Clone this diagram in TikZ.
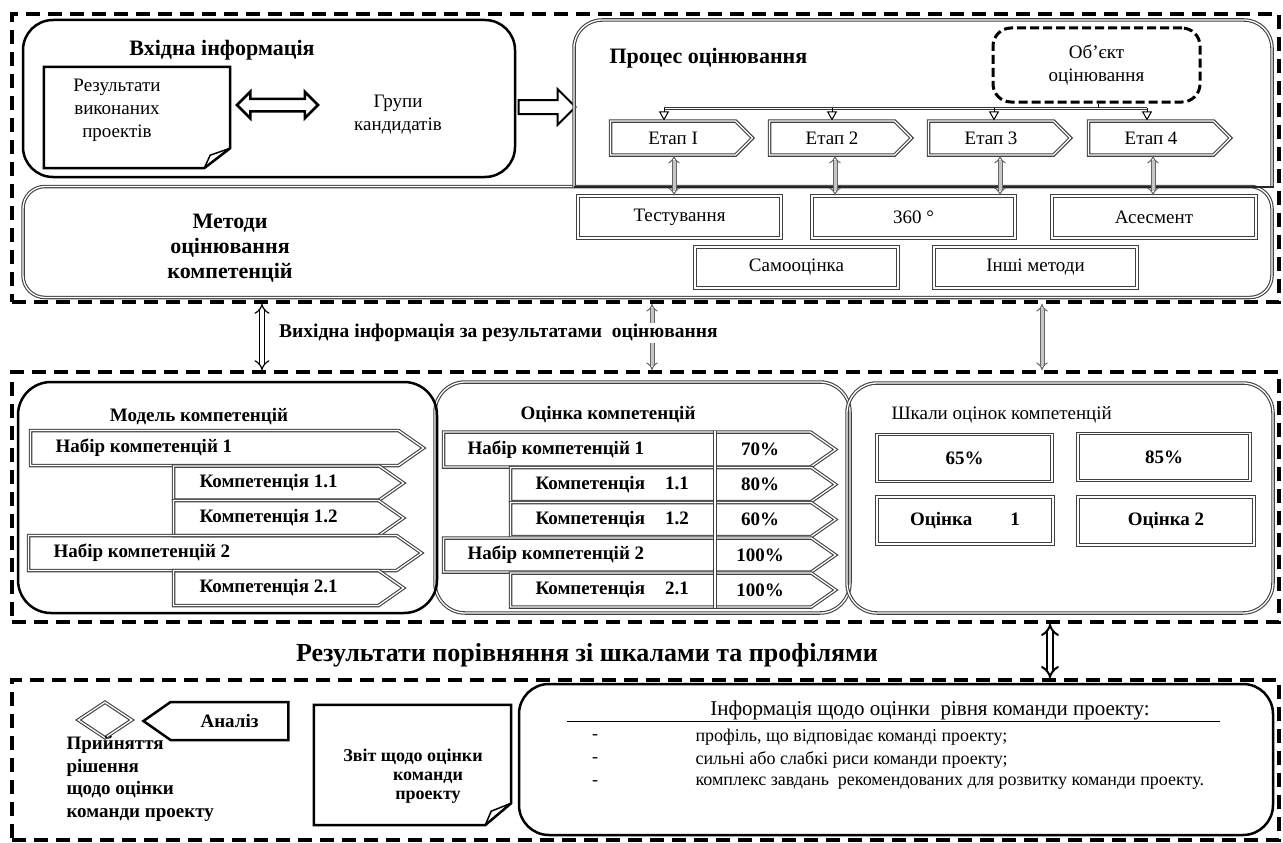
\documentclass[tikz,border=0pt]{standalone}
\usepackage{fontspec}
\setmainfont{Liberation Serif}
\usepackage{tikz}
\usetikzlibrary{shapes,arrows.meta,calc,positioning}
\definecolor{gris}{gray}{0.5}

\begin{document}
\begin{tikzpicture}[x=1pt,y=-1pt,
    cadre/.style={draw,line width=3.5pt,dash pattern=on 14pt off 8pt,
      minimum width=1267pt,inner sep=0pt},
    noir/.style={draw,line width=2.5pt,rounded corners=30pt,inner sep=0pt},
    grisdbl/.style={draw=black!75,double=white,double distance=1.3pt,
      line width=1.1pt},
    boite/.style={grisdbl,shape=rectangle,inner sep=0pt},
    signe/.style={grisdbl,signal,signal to=east,signal pointer angle=70,
      inner sep=0pt,anchor=west},
    titre/.style={font=\fontsize{22}{25}\selectfont\bfseries},
    gras/.style={font=\fontsize{19}{22.5}\selectfont\bfseries},
    texte/.style={font=\fontsize{19}{23}\selectfont},
    petit/.style={font=\fontsize{18}{22}\selectfont},
    liaison/.style={draw=black,double=white,double distance=4pt,
      line width=1.2pt,Implies-Implies},
    liaisongris/.style={draw=black!60,double=gris!45,double distance=3pt,
      line width=1pt,Implies-Implies},
    bus/.style={draw=black!80,double=white,double distance=1.5pt,line width=1pt},
    tri/.style={line width=1pt,-{Triangle[open,length=9pt,width=10pt]}}]
  \useasboundingbox (0,0) rectangle (1283,843);

  % Haut.
  \node[cadre,minimum height=288pt] (haut) at (645.5,158) {};
  \node[noir,minimum width=492pt,minimum height=157pt] (entree) at (269,98.5) {};
  \node[titre] (entreeT) at (222,50) {Вхідна інформація};
  \node[minimum width=186pt,minimum height=101pt] (doc) at (137,117.5) {};
  \draw[line width=2.5pt] (doc.north west) -- (doc.north east)
    -- ($(doc.south east)+(0,-20)$) -- ($(doc.south east)+(-26,0)$)
    -- (doc.south west) -- cycle;
  \draw[line width=1.5pt] ($(doc.south east)+(-26,0)$)
    -- ($(doc.south east)+(-20,-13)$) -- ($(doc.south east)+(0,-20)$);
  \node[texte,align=center] (docT) at (117,110) {Результати\\виконаних\\проектів};
  \node[double arrow,draw,line width=2.5pt,minimum height=81pt,inner sep=5pt,
    double arrow head extend=7pt] (lien) at (277.5,105) {};
  \node[texte,align=center] (groupes) at (398,115) {Групи\\кандидатів};
  \node[single arrow,draw,line width=2pt,minimum height=57pt,inner sep=6pt,
    single arrow head extend=11pt] (versproc) at (543.5,107) {};

  % Processus.
  \node[grisdbl,rounded corners=22pt,minimum width=1249pt,minimum height=111pt,
    inner sep=0pt] (methodes) at (647.5,242) {};
  \draw[grisdbl,rounded corners=28pt] (574,187) -- (574,20) -- (1272,20) -- (1272,187);
  \draw[line width=2.5pt,black!85] (574,187) -- (1274,187);
  \node[titre,anchor=west] (procT) at (606,58) {Процес оцінювання};
  \node[draw,line width=3pt,dash pattern=on 9pt off 4pt,rounded corners=18pt,
    minimum width=207pt,minimum height=74pt,align=center,texte] (objet)
    at (1096.5,65) {Об’єкт\\оцінювання};
  \node[signe,signal pointer angle=90,minimum width=142pt,minimum height=34pt,
    texte] (e1) at (610,138) {Етап I};
  \node[signe,signal pointer angle=90,minimum width=142pt,minimum height=34pt,
    texte] (e2) at (769,138) {Етап 2};
  \node[signe,signal pointer angle=90,minimum width=142pt,minimum height=34pt,
    texte] (e3) at (928,138) {Етап 3};
  \node[signe,signal pointer angle=90,minimum width=142pt,minimum height=34pt,
    texte] (e4) at (1088,138) {Етап 4};
  \coordinate (t1) at ($(e1.north west)+(54,-12)$);
  \coordinate (t2) at ($(e2.north west)+(63,-12)$);
  \coordinate (t3) at ($(e3.north west)+(66,-12)$);
  \coordinate (t4) at ($(e4.north west)+(59,-12)$);
  \draw[bus] (t1) -- (t4);
  \foreach \i in {1,...,4}
    \draw[tri] (t\i) -- (e\i.north -| t\i);
  \draw[line width=1pt] ([xshift=2pt]objet.south) -- ([xshift=2pt]objet.south |- t1);

  % Methodes.
  \node[titre,align=center] (methT) at (230,248) {Методи\\оцінювання\\компетенцій};
  \node[boite,minimum width=203pt,minimum height=42pt,texte] (test) at (679.5,217) {Тестування};
  \node[boite,minimum width=203pt,minimum height=42pt,texte] (m360) at (913.5,217) {360 °};
  \node[boite,minimum width=204pt,minimum height=42pt,texte] (asses) at (1154,217) {Асесмент};
  \node[boite,minimum width=203pt,minimum height=41pt,texte] (auto) at (796.5,267.5) {Самооцінка};
  \node[boite,minimum width=203pt,minimum height=41pt,texte] (autres) at (1035.5,267.5) {Інші методи};
  \coordinate (v1) at (674,0);
  \coordinate (v2) at (835,0);
  \coordinate (v3) at (1000,0);
  \coordinate (v4) at (1153,0);
  \draw[liaisongris] (v1 |- e1.south) -- (v1 |- test.north);
  \draw[liaisongris] (v2 |- e2.south) -- (v2 |- m360.north);
  \draw[liaisongris] (v3 |- e3.south) -- (v3 |- m360.north);
  \draw[liaisongris] (v4 |- e4.south) -- (v4 |- asses.north);

  % Milieu.
  \node[cadre,minimum height=250pt] (milieu) at (645.5,497) {};
  \coordinate (a1) at (262,0);
  \coordinate (a2) at (652,0);
  \coordinate (a3) at (1042,0);
  \draw[liaison] (a1 |- haut.south) -- (a1 |- milieu.north);
  \draw[liaisongris] (a2 |- haut.south) -- (a2 |- milieu.north);
  \draw[liaisongris] (a3 |- haut.south) -- (a3 |- milieu.north);
  \node[fill=white,inner sep=1pt,anchor=west,font=\fontsize{19.5}{22}\selectfont\bfseries]
    (sortie) at (278,333) {Вихідна інформація за результатами\ \ оцінювання};

  \node[grisdbl,rounded corners=30pt,minimum width=415pt,minimum height=231pt,
    inner sep=0pt] (evaluation) at (642.5,497.5) {};
  \node[grisdbl,rounded corners=30pt,minimum width=426pt,minimum height=230pt,
    inner sep=0pt] (echelles) at (1060,498) {};
  \node[noir,rounded corners=33pt,minimum width=419pt,minimum height=231pt]
    (modele) at (227.5,497.5) {};

  % Modele.
  \node[gras] (modeleT) at (199,417) {Модель компетенцій};
  \node[signe,minimum width=393pt,minimum height=35pt] (n1) at (30,448) {};
  \node[gras,anchor=west] (n1t) at ([xshift=22pt]n1.west) {Набір компетенцій 1};
  \node[signe,minimum width=230pt,minimum height=34pt] (k11) at (173,483) {};
  \node[gras,anchor=west] (k11t) at ([xshift=23pt]k11.west) {Компетенція 1.1};
  \node[signe,minimum width=230pt,minimum height=35pt] (k12) at (173,518) {};
  \node[gras,anchor=west] (k12t) at ([xshift=23pt]k12.west) {Компетенція 1.2};
  \node[signe,minimum width=393pt,minimum height=35pt] (n2) at (28,553) {};
  \node[gras,anchor=west] (n2t) at ([xshift=22pt]n2.west) {Набір компетенцій 2};
  \node[signe,minimum width=230pt,minimum height=35pt] (k21) at (173,588) {};
  \node[gras,anchor=west] (k21t) at ([xshift=23pt]k21.west) {Компетенція 2.1};

  % Evaluation.
  \node[gras] (evalT) at (608,415) {Оцінка компетенцій};
  \node[signe,minimum width=392pt,minimum height=35pt] (r1) at (443,449.5) {};
  \node[gras,anchor=west] (r1t) at ([xshift=21pt]r1.west) {Набір компетенцій 1};
  \node[signe,minimum width=325pt,minimum height=34pt] (r2) at (510,484.5) {};
  \node[gras,anchor=west] (r2t) at ([xshift=22pt]r2.west) {Компетенція\hspace{20pt}1.1};
  \node[signe,minimum width=325pt,minimum height=34pt] (r3) at (510,519.5) {};
  \node[gras,anchor=west] (r3t) at ([xshift=22pt]r3.west) {Компетенція\hspace{20pt}1.2};
  \node[signe,minimum width=392pt,minimum height=34pt] (r4) at (443,555) {};
  \node[gras,anchor=west] (r4t) at ([xshift=21pt]r4.west) {Набір компетенцій 2};
  \node[signe,minimum width=325pt,minimum height=34pt] (r5) at (510,590) {};
  \node[gras,anchor=west] (r5t) at ([xshift=22pt]r5.west) {Компетенція\hspace{20pt}2.1};
  \coordinate (sep) at (715,0);
  \coordinate (pc) at (760,0);
  \draw[grisdbl,line width=1.2pt] (sep |- r1.north) -- (sep |- r5.south);
  \node[gras] (p1) at (pc |- r1) {70\%};
  \node[gras] (p2) at (pc |- r2) {80\%};
  \node[gras] (p3) at (pc |- r3) {60\%};
  \node[gras] (p4) at (pc |- r4) {100\%};
  \node[gras] (p5) at (pc |- r5) {100\%};

  % Echelles.
  \node[texte,anchor=west] (echellesT) at (888,415) {Шкали оцінок компетенцій};
  \node[boite,minimum width=175pt,minimum height=47pt,gras] (s65) at (964.5,458) {65\%};
  \node[boite,minimum width=172pt,minimum height=47pt,gras] (s85) at (1164,457) {85\%};
  \node[boite,minimum width=176pt,minimum height=47pt,gras] (note1) at (965,520.5) {Оцінка\hspace{38pt}1};
  \node[boite,minimum width=176pt,minimum height=48pt,gras] (note2) at (1166,521) {Оцінка 2};

  % Bas.
  \node[cadre,minimum height=160pt] (bas) at (645.5,760) {};
  \coordinate (a4) at (1050,0);
  \draw[liaison,line width=2pt] (a4 |- milieu.south) -- (a4 |- bas.north);
  \node[font=\fontsize{26}{30}\selectfont\bfseries] (resultats) at (587,655)
    {Результати порівняння зі шкалами та профілями};

  \node[noir,minimum width=754pt,minimum height=151pt] (info) at (896,759.5) {};
  \node[font=\fontsize{21}{24}\selectfont] (infoT) at (930,710) {Інформація щодо оцінки\ \ рівня команди проекту:};
  \draw[line width=1pt] (567,721) -- (1220,721);
  \foreach \ligne [count=\i] in {{профіль, що відповідає команді проекту;},
      {сильні або слабкі риси команди проекту;},
      {комплекс завдань\ \ рекомендованих для розвитку команди проекту.}} {
    \node[petit] (tiret\i) at (595,714+23*\i) {-};
    \node[petit,anchor=west] (ligne\i) at (692,714+23*\i) {\ligne};
  }

  \node[diamond,grisdbl,minimum width=54pt,minimum height=36pt,inner sep=0pt]
    (decision) at (105,720) {};
  \node[gras,align=left,anchor=north west] (decisionT) at (63,733)
    {Прийняття\\рішення\\щодо оцінки\\команди проекту};
  \node[draw,line width=2.5pt,signal,signal to=west,signal pointer angle=70,
    minimum width=145pt,minimum height=38pt,inner sep=0pt,gras] (analyse)
    at (229.5,721) {Аналіз};

  \node[minimum width=197pt,minimum height=120pt] (rapport) at (412.5,765) {};
  \draw[line width=2.5pt] (rapport.north west) -- (rapport.north east)
    -- ($(rapport.south east)+(0,-22)$) -- ($(rapport.south east)+(-26,0)$)
    -- (rapport.south west) -- cycle;
  \draw[line width=1.5pt] ($(rapport.south east)+(-26,0)$)
    -- ($(rapport.south east)+(-20,-14)$) -- ($(rapport.south east)+(0,-22)$);
  \node[align=center,font=\fontsize{18}{19}\selectfont\bfseries] (rapportT)
    at (413,776) {Звіт щодо оцінки\\\hspace*{30pt}команди\\\hspace*{30pt}проекту};
\end{tikzpicture}
\end{document}
